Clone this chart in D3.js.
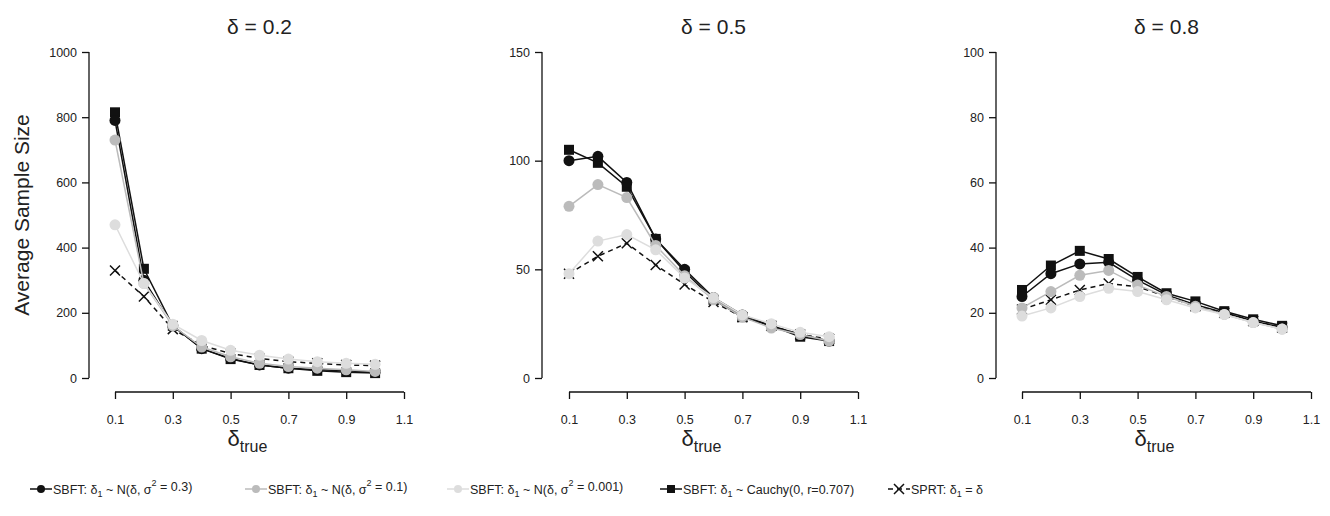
<!DOCTYPE html>
<html><head><meta charset="utf-8">
<script src="https://cdn.jsdelivr.net/npm/d3@7"></script>
<style>
body{margin:0;background:#fff;}
text{font-family:"Liberation Sans Narrow","Liberation Sans",Arial,sans-serif;fill:#222;}
</style></head><body>
<svg id="chart" width="1330" height="516"></svg>
<script>
const deltaTrue = [0.1,0.2,0.3,0.4,0.5,0.6,0.7,0.8,0.9,1.0];
const xTicks = [0.1,0.3,0.5,0.7,0.9,1.1];
const panelTitles = ["0.2","0.5","0.8"];
const yMax = [1000,150,100];
const yTicks = [[0,200,400,600,800,1000],[0,50,100,150],[0,20,40,60,80,100]];

// values per panel
const n03 = [
  [790,300,160,90,60,40,30,25,22,18],
  [100,102,90,64,50,37,29,24,20,17],
  [25,32,35,35.5,30,25.5,22.5,20,17.5,15.5]];
const n01 = [
  [730,290,160,95,65,45,35,30,25,20],
  [79,89,83,61,47,36,28,23,20,17],
  [21.5,26.5,31.5,33,28.5,25,22,19.5,17,15]];
const n0001 = [
  [470,290,165,115,85,70,58,50,45,42],
  [48,63,66,59,46,37,29,25,21,19],
  [19,21.5,25,27.5,26.5,24,21.5,19.5,17,15]];
const cauchy = [
  [815,335,160,90,58,40,30,22,18,15],
  [105,99,88,64,49,36,28,24,19,17],
  [27,34.5,39,36.5,31,26,23.5,20.5,18,16]];
const sprt = [
  [330,250,150,100,75,60,50,45,40,38],
  [48,56,62,52,43,35,28,24,20,18],
  [21,24,27,29,28,25,22,20,17.5,15.5]];

const series = [
  {vals:cauchy, color:"#111", shape:"square", dash:null},
  {vals:n03, color:"#111", shape:"circle", dash:null},
  {vals:sprt, color:"#111", shape:"cross", dash:"5,4"},
  {vals:n01, color:"#bbb", shape:"circle", dash:null},
  {vals:n0001, color:"#ddd", shape:"circle", dash:null}
];

const svg = d3.select("#chart");
const panelX = [89,542,996];
const xStart = [115,569,1022];
const yTop = 52, yBot = 378, xAxisY = 392;

function marker(g, shape, color, x, y){
  if(shape==="circle") g.append("circle").attr("cx",x).attr("cy",y).attr("r",5.5).attr("fill",color);
  else if(shape==="square") g.append("rect").attr("x",x-5).attr("y",y-5).attr("width",10).attr("height",10).attr("fill",color);
  else g.append("path").attr("d",`M${x-5},${y-5}L${x+5},${y+5}M${x-5},${y+5}L${x+5},${y-5}`).attr("stroke",color).attr("stroke-width",1.5);
}

panelTitles.forEach((t,p)=>{
  const x = d3.scaleLinear().domain([0.1,1.1]).range([xStart[p], xStart[p]+289]);
  const y = d3.scaleLinear().domain([0,yMax[p]]).range([yBot,yTop]);
  const g = svg.append("g");

  const ya = g.append("g").attr("transform",`translate(${panelX[p]},0)`)
    .call(d3.axisLeft(y).tickValues(yTicks[p]).tickFormat(d3.format("d")).tickSize(7).tickPadding(5));
  const xa = g.append("g").attr("transform",`translate(0,${xAxisY})`)
    .call(d3.axisBottom(x).tickValues(xTicks).tickFormat(d3.format(".1f")).tickSize(7).tickPadding(16));
  [ya,xa].forEach(a=>{
    a.select(".domain").attr("stroke","#111").attr("stroke-width",1.3);
    a.selectAll(".tick line").attr("stroke","#111").attr("stroke-width",1.3);
    a.selectAll("text").style("font-size","12.5px").attr("fill","#222");
  });
  xa.select(".domain").attr("d",`M${x(0.1)},0H${x(1.1)}`);
  ya.select(".domain").attr("d",`M0,${y(yMax[p])}V${y(0)}`);

  g.append("text").attr("x",(x(0.1)+x(1.1))/2).attr("y",34).attr("text-anchor","middle")
    .style("font-size","21px").text("δ = "+t);
  const xl = g.append("text").attr("x",(x(0.1)+x(1.1))/2-12).attr("y",446).attr("text-anchor","middle").style("font-size","22px");
  xl.append("tspan").text("δ");
  xl.append("tspan").attr("dy",6).style("font-size","16px").text("true");

  series.forEach(s=>{
    const line = d3.line().x((d,i)=>x(deltaTrue[i])).y(d=>y(d));
    g.append("path").datum(s.vals[p]).attr("d",line).attr("fill","none")
      .attr("stroke",s.color).attr("stroke-width",1.5).attr("stroke-dasharray",s.dash);
    s.vals[p].forEach((v,i)=>marker(g,s.shape,s.color,x(deltaTrue[i]),y(v)));
  });
});

svg.append("text").attr("transform","translate(29,215) rotate(-90)").attr("text-anchor","middle")
  .style("font-size","21px").text("Average Sample Size");

// legend
const legend = [
  {x:30, color:"#111", shape:"circle", dash:null, label:["SBFT: δ","1"," ~ N(δ, σ","2"," = 0.3)"]},
  {x:245, color:"#bbb", shape:"circle", dash:null, label:["SBFT: δ","1"," ~ N(δ, σ","2"," = 0.1)"]},
  {x:447, color:"#ddd", shape:"circle", dash:null, label:["SBFT: δ","1"," ~ N(δ, σ","2"," = 0.001)"]},
  {x:660, color:"#111", shape:"square", dash:null, label:["SBFT: δ","1"," ~ Cauchy(0, r=0.707)"]},
  {x:888, color:"#111", shape:"cross", dash:"5,4", label:["SPRT: δ","1"," = δ"]}
];
const ly = 489;
legend.forEach(l=>{
  svg.append("line").attr("x1",l.x).attr("x2",l.x+22).attr("y1",ly).attr("y2",ly)
    .attr("stroke",l.color).attr("stroke-width",1.5).attr("stroke-dasharray",l.dash);
  const lg = svg.append("g");
  if(l.shape==="cross") marker(lg,"cross",l.color,l.x+11,ly);
  else if(l.shape==="square") lg.append("rect").attr("x",l.x+7).attr("y",ly-4).attr("width",8).attr("height",8).attr("fill",l.color);
  else lg.append("circle").attr("cx",l.x+11).attr("cy",ly).attr("r",4).attr("fill",l.color);
  const t = svg.append("text").attr("x",l.x+23).attr("y",ly+5).style("font-size","12.5px");
  l.label.forEach((s,i)=>{
    if(s==="1") t.append("tspan").attr("dy",3).style("font-size","9px").text(s);
    else if(s==="2") t.append("tspan").attr("dy",-8).style("font-size","9px").text(s);
    else {
      const prev = l.label[i-1];
      const dy = prev==="1"?-3:prev==="2"?5:0;
      t.append("tspan").attr("dy",dy).text(s);
    }
  });
});
</script>
</body></html>
